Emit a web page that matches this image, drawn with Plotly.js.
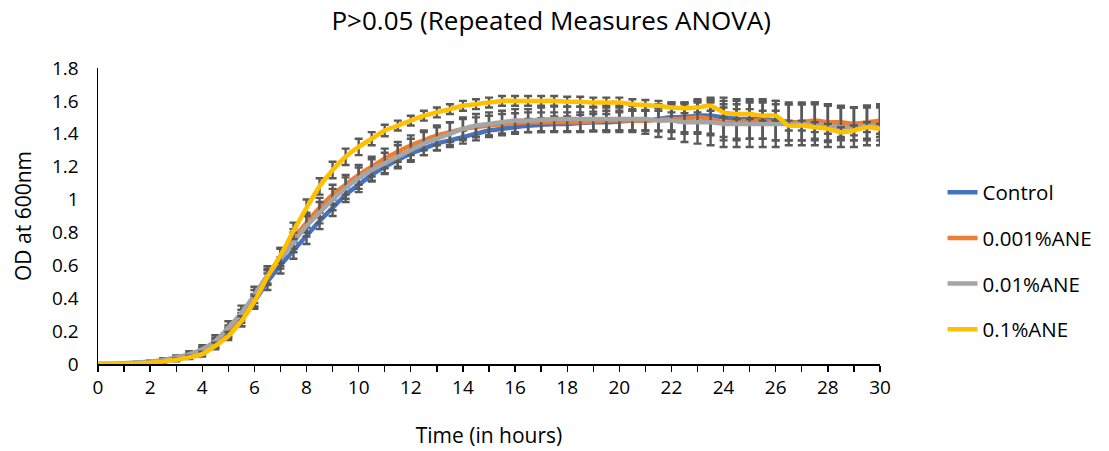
<!DOCTYPE html>
<html>
<head>
<meta charset="utf-8">
<script src="https://cdn.plot.ly/plotly-3.0.1.min.js"></script>
<style>html,body{margin:0;padding:0;background:#fff;}#chart{width:1109px;height:451px;}</style>
</head>
<body>
<div id="chart"></div>
<script>
// Time points (hours)
const timeHours = [0,0.5,1,1.5,2,2.5,3,3.5,4,4.5,5,5.5,6,6.5,7,7.5,8,8.5,9,9.5,10,10.5,11,11.5,12,12.5,13,13.5,14,14.5,15,15.5,16,16.5,17,17.5,18,18.5,19,19.5,20,20.5,21,21.5,22,22.5,23,23.5,24,24.5,25,25.5,26,26.5,27,27.5,28,28.5,29,29.5,30];

const seriesNames = ["Control","0.001%ANE","0.01%ANE","0.1%ANE"];

const controlOD = [0,0,0,0.005,0.01,0.02,0.03,0.05,0.08,0.12,0.19,0.27,0.38,0.50,0.60,0.69,0.78,0.87,0.95,1.03,1.09,1.15,1.20,1.24,1.28,1.31,1.34,1.36,1.38,1.40,1.42,1.43,1.44,1.45,1.455,1.46,1.46,1.465,1.47,1.47,1.475,1.48,1.48,1.49,1.50,1.50,1.51,1.51,1.50,1.49,1.49,1.49,1.48,1.47,1.47,1.47,1.46,1.46,1.46,1.46,1.46];
const ane0001OD = [0,0,0,0.005,0.01,0.02,0.03,0.05,0.08,0.13,0.20,0.29,0.40,0.53,0.65,0.76,0.86,0.95,1.03,1.09,1.15,1.20,1.25,1.29,1.33,1.36,1.39,1.41,1.43,1.44,1.45,1.46,1.465,1.47,1.47,1.47,1.47,1.47,1.475,1.48,1.48,1.48,1.48,1.485,1.49,1.49,1.50,1.49,1.47,1.47,1.48,1.48,1.47,1.47,1.47,1.48,1.47,1.47,1.46,1.47,1.48];
const ane001OD = [0,0,0.005,0.01,0.015,0.025,0.04,0.06,0.09,0.14,0.22,0.31,0.42,0.54,0.64,0.74,0.84,0.92,1.00,1.07,1.13,1.18,1.22,1.26,1.30,1.34,1.37,1.40,1.43,1.45,1.46,1.47,1.48,1.48,1.485,1.49,1.49,1.49,1.49,1.49,1.49,1.49,1.49,1.48,1.48,1.47,1.47,1.47,1.46,1.46,1.46,1.46,1.46,1.46,1.46,1.46,1.45,1.44,1.44,1.45,1.45];
const ane01OD = [0,0,0,0.003,0.008,0.015,0.025,0.04,0.06,0.11,0.17,0.26,0.38,0.53,0.66,0.81,0.95,1.08,1.18,1.26,1.32,1.37,1.42,1.45,1.48,1.51,1.53,1.55,1.57,1.58,1.59,1.60,1.60,1.60,1.60,1.60,1.595,1.595,1.59,1.59,1.59,1.58,1.575,1.57,1.56,1.555,1.56,1.57,1.53,1.52,1.52,1.51,1.51,1.45,1.45,1.44,1.43,1.41,1.42,1.44,1.43];

const controlErr = [0,0,0.002,0.003,0.005,0.008,0.01,0.015,0.02,0.025,0.03,0.04,0.045,0.05,0.05,0.05,0.05,0.05,0.05,0.045,0.045,0.04,0.04,0.04,0.04,0.04,0.04,0.04,0.04,0.04,0.04,0.04,0.04,0.04,0.04,0.045,0.045,0.05,0.05,0.05,0.055,0.06,0.06,0.07,0.08,0.09,0.1,0.11,0.12,0.12,0.12,0.12,0.12,0.11,0.11,0.11,0.11,0.1,0.1,0.1,0.1];
const ane0001Err = [0,0,0.002,0.003,0.005,0.008,0.01,0.015,0.02,0.03,0.035,0.04,0.05,0.05,0.055,0.06,0.06,0.06,0.06,0.06,0.06,0.06,0.06,0.06,0.06,0.06,0.06,0.06,0.06,0.06,0.06,0.06,0.06,0.06,0.06,0.06,0.06,0.06,0.06,0.06,0.06,0.06,0.06,0.07,0.08,0.09,0.1,0.1,0.11,0.11,0.11,0.11,0.11,0.11,0.11,0.11,0.11,0.1,0.1,0.1,0.1];
const ane001Err = [0,0,0.002,0.004,0.006,0.01,0.012,0.018,0.025,0.035,0.04,0.045,0.05,0.055,0.06,0.06,0.065,0.065,0.065,0.065,0.065,0.065,0.065,0.07,0.07,0.07,0.07,0.07,0.07,0.07,0.07,0.07,0.07,0.07,0.075,0.075,0.075,0.075,0.075,0.08,0.08,0.08,0.09,0.1,0.11,0.12,0.13,0.14,0.14,0.14,0.14,0.14,0.14,0.13,0.13,0.13,0.13,0.12,0.12,0.12,0.12];
const ane01Err = [0,0,0.002,0.003,0.004,0.006,0.008,0.01,0.015,0.02,0.025,0.03,0.035,0.04,0.045,0.05,0.05,0.05,0.05,0.05,0.05,0.04,0.035,0.03,0.03,0.03,0.03,0.03,0.03,0.03,0.03,0.03,0.03,0.03,0.03,0.03,0.03,0.03,0.03,0.03,0.03,0.03,0.03,0.03,0.03,0.03,0.03,0.03,0.03,0.03,0.03,0.03,0.03,0.03,0.03,0.03,0.03,0.03,0.03,0.03,0.03];

const seriesValues = [controlOD, ane0001OD, ane001OD, ane01OD];
const seriesErrors = [controlErr, ane0001Err, ane001Err, ane01Err];
const seriesColors = ["#4472C4","#ED7D31","#A5A5A5","#FFC000"];

const FONT = "'Open Sans', Lato, sans-serif";

const traces = seriesNames.map((name, i) => ({
  type: "scatter",
  mode: "lines",
  name: name,
  legendgroup: "g" + i,
  x: timeHours,
  y: seriesValues[i],
  line: {color: seriesColors[i], width: 4.5, shape: "spline", smoothing: 0.6},
  error_y: {type: "data", array: seriesErrors[i], visible: true, color: "#595959", thickness: 2.4, width: 4},
  hoverinfo: "x+y+name"
}));

const layout = {
  width: 1109,
  height: 451,
  paper_bgcolor: "#ffffff",
  plot_bgcolor: "#ffffff",
  margin: {l: 98, r: 229, t: 68, b: 87, autoexpand: false},
  font: {family: FONT, size: 20, color: "#000000"},
  title: {
    text: "P>0.05 (Repeated Measures ANOVA)",
    font: {family: FONT, size: 26, color: "#000000"},
    x: 0.497, xref: "container", xanchor: "center",
    y: 1 - 21/451, yref: "container", yanchor: "middle"
  },
  xaxis: {
    range: [0, 30],
    dtick: 2,
    tick0: 0,
    showgrid: false,
    zeroline: false,
    showline: true,
    linecolor: "#000000",
    linewidth: 1.5,
    ticks: "outside",
    ticklen: 6,
    tickwidth: 1.3,
    tickcolor: "#000000",
    minor: {dtick: 1, ticks: "outside", ticklen: 6, tickwidth: 1.3, tickcolor: "#000000"},
    tickfont: {family: FONT, size: 19, color: "#000000"},
    title: {text: "Time (in hours)", font: {family: FONT, size: 21, color: "#000000"}, standoff: 29},
    fixedrange: true
  },
  yaxis: {
    range: [0, 1.8],
    dtick: 0.2,
    tick0: 0,
    showgrid: false,
    zeroline: false,
    showline: true,
    linecolor: "#000000",
    linewidth: 1.5,
    ticks: "",
    ticklabelstandoff: 14,
    tickfont: {family: FONT, size: 19, color: "#000000"},
    title: {text: "OD at 600nm", font: {family: FONT, size: 21, color: "#000000"}, standoff: 14},
    fixedrange: true
  },
  showlegend: true,
  legend: {
    x: 1.08, xanchor: "left",
    y: 0.647, yanchor: "top",
    traceorder: "grouped",
    tracegroupgap: 16,
    font: {family: FONT, size: 20.5, color: "#000000"},
    bgcolor: "rgba(0,0,0,0)",
    itemwidth: 30
  }
};

Plotly.newPlot("chart", traces, layout, {displayModeBar: false, staticPlot: true});
</script>
</body>
</html>
